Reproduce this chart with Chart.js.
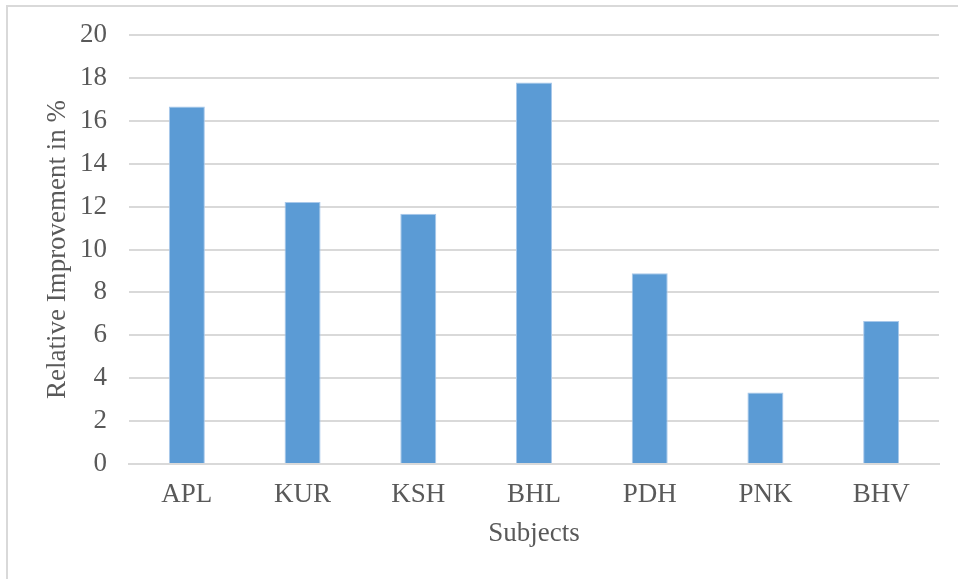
<!DOCTYPE html>
<html>
<head>
<meta charset="utf-8">
<script src="https://cdn.jsdelivr.net/npm/chart.js@4"></script>
<style>
  html, body { margin: 0; padding: 0; background: #ffffff; }
  #wrap { width: 958px; height: 579px; position: relative; }
</style>
</head>
<body>
<div id="wrap"><canvas id="chart" width="958" height="579"></canvas></div>
<script>
// Relative improvement per subject
const subjects = ['APL', 'KUR', 'KSH', 'BHL', 'PDH', 'PNK', 'BHV'];
const improvement = [16.67, 12.22, 11.67, 17.78, 8.89, 3.33, 6.67];
const yTicks = [0, 2, 4, 6, 8, 10, 12, 14, 16, 18, 20];

const textColor = '#595959';
const gridColor = '#d9d9d9';
const serif = "'Liberation Serif', 'Times New Roman', serif";
const fontSize = 27;

// Light frame around the chart, open on the right and bottom
const framePlugin = {
  id: 'frame',
  beforeDraw(chart) {
    const ctx = chart.ctx;
    ctx.save();
    ctx.strokeStyle = gridColor;
    ctx.lineWidth = 2;
    ctx.beginPath();
    ctx.moveTo(7, chart.height);
    ctx.lineTo(7, 6);
    ctx.lineTo(chart.width, 6);
    ctx.stroke();
    ctx.restore();
  }
};

new Chart(document.getElementById('chart'), {
  type: 'bar',
  data: {
    labels: subjects,
    datasets: [{
      data: improvement,
      backgroundColor: '#5b9bd5',
      borderColor: '#a8c8ea',
      borderWidth: 1,
      categoryPercentage: 1,
      barPercentage: 0.311
    }]
  },
  options: {
    responsive: false,
    animation: false,
    devicePixelRatio: 1,
    layout: { padding: { left: 42, right: 19, top: 35, bottom: 0 } },
    plugins: { legend: { display: false }, tooltip: { enabled: false } },
    scales: {
      x: {
        afterFit(axis) { axis.height = 115; },
        grid: { display: false, drawTicks: false },
        border: { display: true, color: gridColor, width: 2 },
        ticks: { color: textColor, font: { family: serif, size: fontSize }, padding: 15 },
        title: {
          display: true, text: 'Subjects', color: textColor,
          font: { family: serif, size: fontSize }, padding: { top: 0, bottom: 29 }
        }
      },
      y: {
        min: 0, max: 20,
        afterFit(axis) {
          axis.width = 87;
          axis.paddingTop = 0;
          axis.paddingBottom = 0;
        },
        afterBuildTicks(axis) { axis.ticks = yTicks.map(v => ({ value: v })); },
        grid: { color: gridColor, lineWidth: 2, drawTicks: false },
        border: { display: false },
        ticks: { color: textColor, font: { family: serif, size: fontSize }, padding: 22 },
        title: {
          display: true, text: 'Relative Improvement in %', color: textColor,
          font: { family: serif, size: fontSize }, padding: { top: 0, bottom: 8 }
        }
      }
    }
  },
  plugins: [framePlugin]
});
</script>
</body>
</html>
